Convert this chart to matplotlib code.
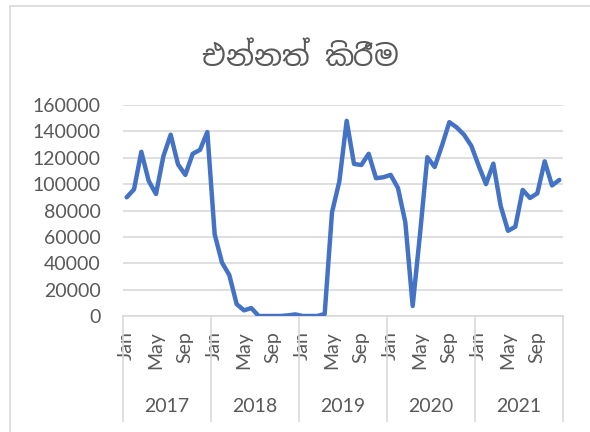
import numpy as np
import matplotlib
matplotlib.use('Agg')
import matplotlib.pyplot as plt
from matplotlib import font_manager
from matplotlib.ft2font import FT2Font
from matplotlib.patches import Rectangle
from matplotlib.text import Text
from matplotlib.textpath import TextPath
from matplotlib.transforms import IdentityTransform

title = 'එන්නත් කිරීම'
years = ['2017', '2018', '2019', '2020', '2021']
month_labels = ['Jan', 'May', 'Sep']
month_label_idx = [0, 4, 8]

v2017 = [90000, 96000, 124500, 102500, 92500, 121000, 137500, 115000, 107000, 123000, 126000, 139500]
v2018 = [62000, 40500, 31000, 9000, 4300, 6000, 0, 0, 0, 0, 500, 1200]
v2019 = [0, 0, 0, 1500, 78600, 102000, 148000, 115300, 114500, 123000, 104500, 105200]
v2020 = [107000, 97000, 71000, 7600, 62000, 120400, 113000, 129300, 147000, 143000, 137500, 129000]
v2021 = [114000, 100000, 115500, 83500, 64600, 67700, 95600, 89500, 93000, 117300, 99000, 103200]

values = np.array(v2017 + v2018 + v2019 + v2020 + v2021)

MARKS = set(range(0x0DCA, 0x0DE0)) | {0x0D82, 0x0D83, 0x0DF2, 0x0DF3}


# find an installed font with Sinhala glyphs (prefer a regular sans)
def find_font(ch):
    hits = []
    for path in font_manager.findSystemFonts():
        try:
            if ord(ch) in FT2Font(path).get_charmap():
                hits.append(path)
        except Exception:
            pass
    if not hits:
        return None
    hits.sort(key=lambda p: ('Sans' not in p, 'Regular' not in p, len(p)))
    return hits[0]


# matplotlib does no complex shaping: work out where each letter / vowel sign
# / al-lakuna should sit (pen origins, in units of an em of 100)
def sinhala_layout(text, fname, size=100):
    prop = font_manager.FontProperties(fname=fname)
    ft = FT2Font(fname)
    ft.set_size(size, 72)
    out = []
    x = 0.0
    prev = None
    x0, x1, y0, y1 = np.inf, -np.inf, np.inf, -np.inf
    for ch in text:
        cp = ord(ch)
        if ch == ' ':
            x += ft.load_char(cp).linearHoriAdvance / 65536
            continue
        e = TextPath((0, 0), ch, size=size, prop=prop).get_extents()
        if cp in MARKS and prev is not None:
            bx0, bx1 = prev
            if cp == 0x0DCA:
                ox = bx1 - e.x1 + 0.04 * size
            else:
                ox = (bx0 + bx1) / 2 - (e.x0 + e.x1) / 2
        else:
            ox = x
            prev = (x + e.x0, x + e.x1)
            x += ft.load_char(cp).linearHoriAdvance / 65536
        out.append((ch, ox))
        x0, x1 = min(x0, ox + e.x0), max(x1, ox + e.x1)
        y0, y1 = min(y0, e.y0), max(y1, e.y1)
    return out, (x0, x1, y0, y1)


# one Text holding the whole title; it paints the letters at the hand-made positions
class ShapedText(Text):
    def __init__(self, x, y, text, pieces, **kw):
        super().__init__(x, y, text, **kw)
        self._pieces = pieces

    def draw(self, renderer):
        if not self.get_visible():
            return
        for s, px, py in self._pieces:
            t = Text(px, py, s, fontproperties=self.get_fontproperties(),
                     color=self.get_color(), ha='left', va='baseline',
                     transform=IdentityTransform())
            t.set_figure(self.get_figure())
            t.draw(renderer)
        self.stale = False


plt.rcParams['font.family'] = ['Lato', 'DejaVu Sans']
grey = '#595959'

fig = plt.figure(figsize=(5.9, 4.32), dpi=100)
ax = fig.add_axes([123/590, 1 - 316/432, 440/590, 211/432])

x = np.arange(len(values))
ax.plot(x, values, color='#4472C4', linewidth=3.2,
        solid_joinstyle='round', solid_capstyle='round', zorder=3)

ax.set_xlim(-0.5, len(values) - 0.5)
ax.set_ylim(0, 160000)
ax.set_yticks(np.arange(0, 160001, 20000))
ax.tick_params(axis='y', length=0, pad=16, labelsize=14, labelcolor=grey)
ax.grid(axis='y', color='#D9D9D9', linewidth=1.2, zorder=0)

ticks = [12*k + m for k in range(len(years)) for m in month_label_idx]
ax.set_xticks(ticks)
ax.set_xticklabels(month_labels * len(years), rotation=90, va='top', ha='center')
ax.tick_params(axis='x', length=0, pad=11, labelsize=14, labelcolor=grey)

for s in ['top', 'right', 'left']:
    ax.spines[s].set_visible(False)
ax.spines['bottom'].set_color('#D9D9D9')
ax.spines['bottom'].set_linewidth(1.2)

# year group separators and labels
trans = ax.get_xaxis_transform()
for k in range(len(years) + 1):
    ax.plot([12*k - 0.5, 12*k - 0.5], [0, -0.498], transform=trans,
            color='#D9D9D9', linewidth=1.2, clip_on=False)
for k, yr in enumerate(years):
    ax.text(12*k + 5.5, -0.43, yr, transform=trans, ha='center', va='center',
            fontsize=14, color=grey)

# title
cx, cy = 300, 432 - 52
sin_font = find_font('එ')
if sin_font:
    glyphs, (gx0, gx1, gy0, gy1) = sinhala_layout(title, sin_font)
    sc = 195 / (gx1 - gx0)          # px per unit
    fs = sc * 72                    # font size in pt at 100 dpi
    prop = font_manager.FontProperties(fname=sin_font, size=fs)
    bx = cx - (gx0 + gx1) / 2 * sc
    by = cy - (gy0 + gy1) / 2 * sc
    pieces = [(ch, bx + ox * sc, by) for ch, ox in glyphs]
    fig.add_artist(ShapedText(cx / 590, cy / 432, title, pieces,
                              fontproperties=prop, color=grey,
                              ha='center', va='center',
                              transform=fig.transFigure))
else:
    fig.text(cx / 590, cy / 432, title, ha='center', va='center',
             fontsize=20, color=grey)

# chart area border
fig.patches.append(Rectangle((10/590, -0.1), 1.0, 1.1 - 6/432,
                             transform=fig.transFigure, fill=False,
                             edgecolor='#D9D9D9', linewidth=1.2))

fig.savefig('out.png', dpi=100)
